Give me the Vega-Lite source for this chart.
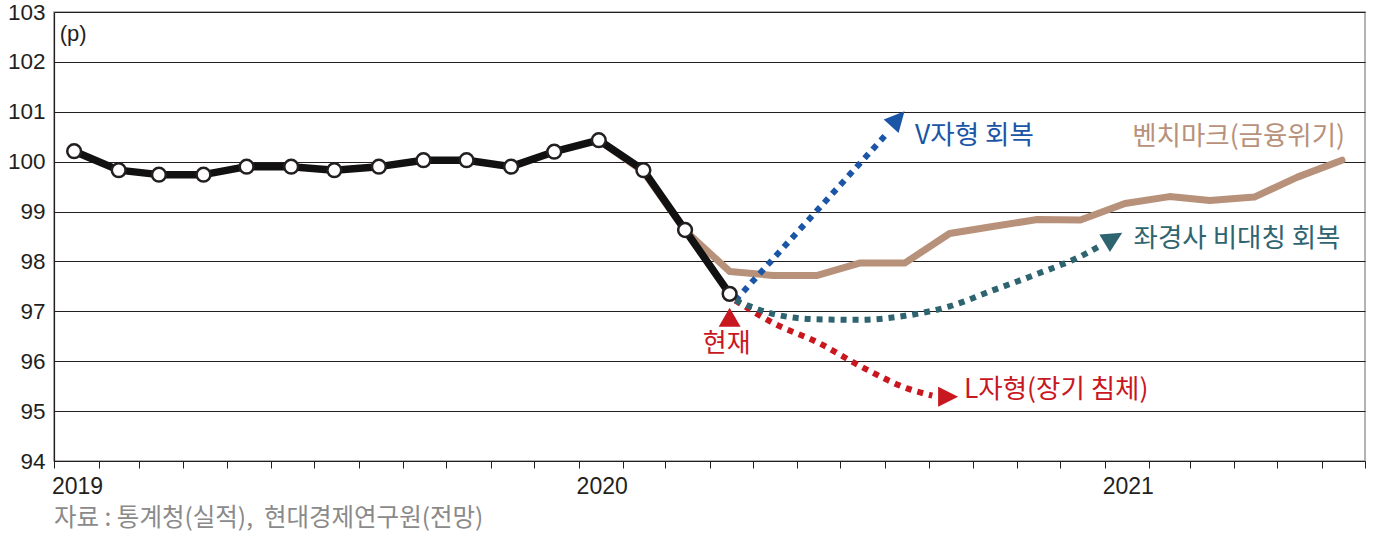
{
  "$schema": "https://vega.github.io/schema/vega-lite/v6.json",
  "width": 1311,
  "height": 449,
  "autosize": {"type": "none"},
  "padding": {"left": 54, "top": 12, "right": 12, "bottom": 79},
  "background": "white",
  "title": {
    "text": "자료 : 통계청(실적),\u00a0\u00a0현대경제연구원(전망)",
    "orient": "bottom",
    "anchor": "start",
    "frame": "group",
    "font": "Noto Sans CJK KR",
    "fontSize": 24.5,
    "fontWeight": "normal",
    "color": "#8a8a8a",
    "offset": 9
  },
  "config": {"view": {"stroke": "#9a9a9a", "strokeWidth": 1.5}},
  "datasets": {
    "actual": [
      {"date": "2019-01-15", "value": 100.21},
      {"date": "2019-02-15", "value": 99.83},
      {"date": "2019-03-15", "value": 99.74},
      {"date": "2019-04-15", "value": 99.74},
      {"date": "2019-05-15", "value": 99.9},
      {"date": "2019-06-15", "value": 99.9},
      {"date": "2019-07-15", "value": 99.83},
      {"date": "2019-08-15", "value": 99.9},
      {"date": "2019-09-15", "value": 100.03},
      {"date": "2019-10-15", "value": 100.03},
      {"date": "2019-11-15", "value": 99.9},
      {"date": "2019-12-15", "value": 100.2},
      {"date": "2020-01-15", "value": 100.43},
      {"date": "2020-02-15", "value": 99.83},
      {"date": "2020-03-15", "value": 98.63},
      {"date": "2020-04-15", "value": 97.35}
    ],
    "benchmark": [
      {"date": "2020-01-15", "value": 100.43},
      {"date": "2020-02-15", "value": 99.8},
      {"date": "2020-03-15", "value": 98.62},
      {"date": "2020-04-15", "value": 97.8},
      {"date": "2020-05-15", "value": 97.72},
      {"date": "2020-06-15", "value": 97.72},
      {"date": "2020-07-15", "value": 97.97},
      {"date": "2020-08-15", "value": 97.97},
      {"date": "2020-09-15", "value": 98.56},
      {"date": "2020-10-15", "value": 98.7},
      {"date": "2020-11-15", "value": 98.84},
      {"date": "2020-12-15", "value": 98.83},
      {"date": "2021-01-15", "value": 99.16},
      {"date": "2021-02-15", "value": 99.3},
      {"date": "2021-03-15", "value": 99.22},
      {"date": "2021-04-15", "value": 99.29},
      {"date": "2021-05-15", "value": 99.69},
      {"date": "2021-06-15", "value": 100.03}
    ],
    "scenario": [
      {"series": "V자형", "date": "2020-04-19", "value": 97.22},
      {"series": "V자형", "date": "2020-08-03", "value": 100.58},
      {"series": "L자형", "date": "2020-04-19", "value": 97.22},
      {"series": "L자형", "date": "2020-05-15", "value": 96.77},
      {"series": "L자형", "date": "2020-06-15", "value": 96.38},
      {"series": "L자형", "date": "2020-07-15", "value": 95.9},
      {"series": "L자형", "date": "2020-08-17", "value": 95.45},
      {"series": "L자형", "date": "2020-09-03", "value": 95.31},
      {"series": "좌경사", "date": "2020-04-19", "value": 97.22},
      {"series": "좌경사", "date": "2020-05-15", "value": 96.95},
      {"series": "좌경사", "date": "2020-06-15", "value": 96.84},
      {"series": "좌경사", "date": "2020-07-15", "value": 96.83},
      {"series": "좌경사", "date": "2020-08-15", "value": 96.91},
      {"series": "좌경사", "date": "2020-09-15", "value": 97.1},
      {"series": "좌경사", "date": "2020-10-15", "value": 97.42},
      {"series": "좌경사", "date": "2020-11-15", "value": 97.75},
      {"series": "좌경사", "date": "2020-12-15", "value": 98.1},
      {"series": "좌경사", "date": "2020-12-28", "value": 98.3}
    ],
    "arrows": [
      {"series": "V자형", "date": "2020-08-10", "value": 100.86},
      {"series": "L자형", "date": "2020-09-14", "value": 95.29},
      {"series": "좌경사", "date": "2021-01-07", "value": 98.47}
    ],
    "now": [
      {"date": "2020-04-15", "value": 96.88}
    ],
    "labels": [
      {"series": "V자형", "text": "V자형 회복", "date": "2020-08-22", "value": 100.52},
      {"series": "벤치마크", "text": "벤치마크(금융위기)", "date": "2021-01-20", "value": 100.5},
      {"series": "좌경사", "text": "좌경사 비대칭 회복", "date": "2021-01-21", "value": 98.44},
      {"series": "L자형", "text": "L자형(장기 침체)", "date": "2020-09-25", "value": 95.42}
    ],
    "nowLabel": [
      {"text": "현재", "date": "2020-04-13", "value": 96.35}
    ],
    "unit": [
      {"text": "(p)", "date": "2019-01-05", "value": 102.55}
    ]
  },
  "encoding": {
    "x": {
      "field": "date",
      "type": "temporal",
      "scale": {
        "type": "utc",
        "domain": [
          {"year": 2019, "month": 1, "date": 1, "utc": true},
          {"year": 2021, "month": 7, "date": 1, "utc": true}
        ]
      },
      "axis": {
        "title": null,
        "tickCount": {"interval": "month", "step": 1},
        "labelExpr": "utcmonth(datum.value) == 0 ? utcFormat(datum.value, '%Y') : ''",
        "labelOffset": 23,
        "labelFlush": false,
        "labelOverlap": false,
        "labelBound": false,
        "labelFont": "Liberation Sans",
        "labelFontSize": 23,
        "labelColor": "#231f20",
        "labelPadding": 7,
        "tickSize": 7,
        "tickColor": "#231f20",
        "tickWidth": 1,
        "domainColor": "#231f20",
        "domainWidth": 1.2,
        "grid": false
      }
    },
    "y": {
      "field": "value",
      "type": "quantitative",
      "scale": {"domain": [94, 103], "zero": false, "nice": false},
      "axis": {
        "title": null,
        "values": [94, 95, 96, 97, 98, 99, 100, 101, 102, 103],
        "grid": true,
        "gridColor": "#231f20",
        "gridWidth": 1,
        "ticks": false,
        "domainColor": "#231f20",
        "domainWidth": 1.2,
        "labelFont": "Liberation Sans",
        "labelFontSize": 22.5,
        "labelColor": "#231f20",
        "labelPadding": 9
      }
    }
  },
  "layer": [
    {
      "data": {"name": "benchmark"},
      "mark": {"type": "line", "color": "#b8917b", "strokeWidth": 7, "strokeCap": "round", "strokeJoin": "round"}
    },
    {
      "data": {"name": "scenario"},
      "mark": {"type": "line", "strokeWidth": 6, "strokeDash": [6, 6], "strokeCap": "butt", "interpolate": "monotone"},
      "encoding": {
        "color": {
          "field": "series",
          "type": "nominal",
          "scale": {"domain": ["V자형", "L자형", "좌경사", "벤치마크"], "range": ["#1a55a6", "#c8171f", "#2e6470", "#b8917b"]},
          "legend": null
        },
        "detail": {"field": "series"}
      }
    },
    {
      "data": {"name": "actual"},
      "mark": {"type": "line", "color": "#111111", "strokeWidth": 7.5, "strokeJoin": "round"}
    },
    {
      "data": {"name": "actual"},
      "mark": {"type": "point", "filled": true, "fill": "white", "stroke": "#231f20", "strokeWidth": 2.5, "size": 190, "opacity": 1, "shape": "circle"}
    },
    {
      "data": {"name": "arrows"},
      "transform": [{"filter": "datum.series == 'V자형'"}],
      "mark": {"type": "point", "shape": "M0,-1L1,1L-1,1Z", "filled": true, "color": "#1a55a6", "size": 400, "angle": 42, "opacity": 1}
    },
    {
      "data": {"name": "arrows"},
      "transform": [{"filter": "datum.series == 'L자형'"}],
      "mark": {"type": "point", "shape": "M0,-1L1,1L-1,1Z", "filled": true, "color": "#c8171f", "size": 400, "angle": 90, "opacity": 1}
    },
    {
      "data": {"name": "arrows"},
      "transform": [{"filter": "datum.series == '좌경사'"}],
      "mark": {"type": "point", "shape": "M0,-1L1,1L-1,1Z", "filled": true, "color": "#2e6470", "size": 420, "angle": 59, "opacity": 1}
    },
    {
      "data": {"name": "now"},
      "mark": {"type": "point", "shape": "triangle-up", "filled": true, "color": "#c8171f", "size": 480, "opacity": 1}
    },
    {
      "data": {"name": "labels"},
      "mark": {"type": "text", "align": "left", "baseline": "middle", "font": "Noto Sans CJK KR", "fontSize": 26.5, "fontWeight": "normal"},
      "encoding": {
        "text": {"field": "text"},
        "color": {
          "field": "series",
          "type": "nominal",
          "scale": {"domain": ["V자형", "L자형", "좌경사", "벤치마크"], "range": ["#1a55a6", "#c8171f", "#2e6470", "#b8917b"]},
          "legend": null
        }
      }
    },
    {
      "data": {"name": "nowLabel"},
      "mark": {"type": "text", "align": "center", "baseline": "middle", "font": "Noto Sans CJK KR", "fontSize": 26, "fontWeight": "normal", "color": "#c8171f"},
      "encoding": {"text": {"field": "text"}}
    },
    {
      "data": {"name": "unit"},
      "mark": {"type": "text", "align": "left", "baseline": "middle", "font": "Liberation Sans", "fontSize": 22, "color": "#231f20"},
      "encoding": {"text": {"field": "text"}}
    }
  ]
}
